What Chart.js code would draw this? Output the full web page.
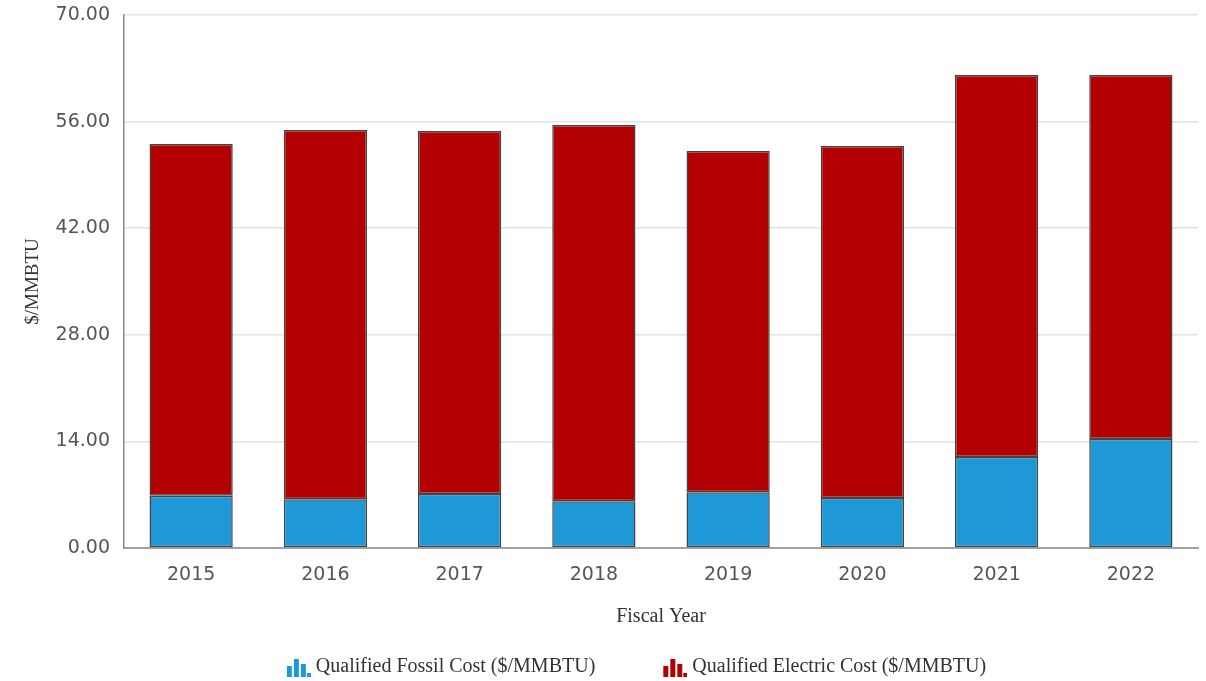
<!DOCTYPE html>
<html>
<head>
<meta charset="utf-8">
<script src="https://cdn.jsdelivr.net/npm/chart.js@4.4.1/dist/chart.umd.min.js"></script>
<style>
  html, body { margin: 0; padding: 0; background: #ffffff; }
  #wrap { width: 1206px; height: 681px; }
</style>
</head>
<body>
<div id="wrap"><canvas id="c" width="1206" height="681"></canvas></div>
<script>
const categories = ['2015', '2016', '2017', '2018', '2019', '2020', '2021', '2022'];
const fossilCost = [6.87, 6.39, 7.09, 6.13, 7.31, 6.57, 11.95, 14.30];
const electricCost = [46.19, 48.51, 47.68, 49.42, 44.83, 46.23, 50.17, 47.82];
const yTicks = [0, 14, 28, 42, 56, 70];
const seriesNames = ['Qualified Fossil Cost ($/MMBTU)', 'Qualified Electric Cost ($/MMBTU)'];

function makeIcon(color) {
  const cv = document.createElement('canvas');
  cv.width = 30; cv.height = 20;
  const g = cv.getContext('2d');
  g.fillStyle = color;
  g.fillRect(6, 9, 5, 11);
  g.fillRect(13, 2, 5, 18);
  g.fillRect(20, 7, 5, 13);
  g.fillRect(26, 16, 4, 4);
  return cv;
}
const blueIcon = makeIcon('#1e98d6');
const redIcon = makeIcon('#b30000');

const serif = '"Liberation Serif", "Times New Roman", serif';
const sans = '"DejaVu Sans", Verdana, sans-serif';

const legendPlacement = {
  id: 'legendPlacement',
  afterLayout(chart) {
    const lg = chart.legend;
    if (!lg) return;
    lg.left += 37; lg.right += 37;
    lg.top += 6; lg.bottom += 6;
  }
};

new Chart(document.getElementById('c'), {
  type: 'bar',
  data: {
    labels: categories,
    datasets: [
      { label: seriesNames[0], data: fossilCost, backgroundColor: '#1e98d6', borderColor: '#444444', borderWidth: 1.5, borderSkipped: false, pointStyle: blueIcon, categoryPercentage: 0.62, barPercentage: 1.0 },
      { label: seriesNames[1], data: electricCost, backgroundColor: '#b30000', borderColor: '#444444', borderWidth: 1.5, borderSkipped: false, pointStyle: redIcon, categoryPercentage: 0.62, barPercentage: 1.0 }
    ]
  },
  plugins: [legendPlacement],
  options: {
    responsive: false,
    devicePixelRatio: 1,
    animation: false,
    layout: { padding: { top: 15, right: 8, left: 0, bottom: 0 } },
    plugins: {
      tooltip: { enabled: false },
      legend: {
        position: 'bottom',
        labels: {
          usePointStyle: true,
          boxWidth: 20,
          boxHeight: 20,
          padding: 67,
          color: '#333333',
          font: { family: serif, size: 20 }
        }
      }
    },
    scales: {
      x: {
        stacked: true,
        grid: { display: false, drawTicks: false },
        border: { display: true, color: '#a0a0a0', width: 2 },
        ticks: { color: '#555555', padding: 16, font: { family: sans, size: 19 } },
        title: { display: true, text: 'Fiscal Year', color: '#333333', padding: { top: 0, bottom: -45 }, font: { family: serif, size: 20 } },
        afterFit: (s) => { s.height = 36; }
      },
      y: {
        stacked: true,
        min: 0, max: 70,
        afterBuildTicks: (s) => { s.ticks = yTicks.map(v => ({ value: v })); },
        grid: { color: '#e2e2e2', lineWidth: 1.5, drawTicks: false },
        border: { display: true, color: '#888888', width: 1.5 },
        ticks: { color: '#555555', padding: 14, font: { family: sans, size: 19 }, callback: (v) => Number(v).toFixed(2) },
        title: { display: true, text: '$/MMBTU', color: '#333333', padding: { top: 22, bottom: 22 }, font: { family: serif, size: 19 } },
        afterFit: (s) => { s.width = 124; s.paddingTop = 0; s.paddingBottom = 0; }
      }
    }
  }
});
</script>
</body>
</html>
